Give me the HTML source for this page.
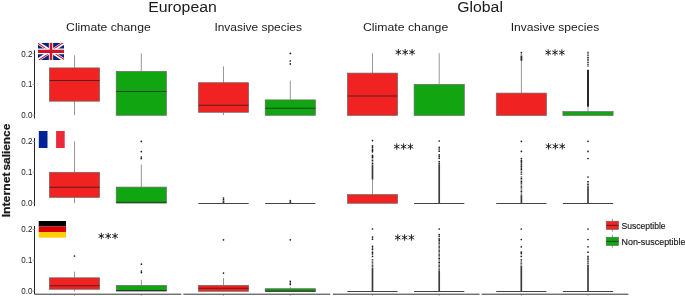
<!DOCTYPE html>
<html><head><meta charset="utf-8"><style>
html,body{margin:0;padding:0;background:#fff;}
body{width:685px;height:296px;overflow:hidden;}
svg{display:block;}
text{font-family:"Liberation Sans",sans-serif;fill:#1a1a1a;}
.tk{font-size:9.4px;fill:#1a1a1a;}
.h1{font-size:14.7px;}
.h2{font-size:11.7px;}
.lg{font-size:9px;fill:#151515;stroke:#151515;stroke-width:0.15px;}
.yl{font-size:11.5px;font-weight:bold;stroke:#1a1a1a;stroke-width:0.25px;}
</style></head><body>
<svg width="685" height="296" viewBox="0 0 685 296">
<rect width="685" height="296" fill="#fff"/>
<line x1="34.5" y1="50.3" x2="34.5" y2="118.4" stroke="#222" stroke-width="1"/>
<line x1="32.5" y1="115.3" x2="34.5" y2="115.3" stroke="#999" stroke-width="0.8"/>
<line x1="32.5" y1="84.5" x2="34.5" y2="84.5" stroke="#999" stroke-width="0.8"/>
<line x1="32.5" y1="53.7" x2="34.5" y2="53.7" stroke="#999" stroke-width="0.8"/>
<line x1="34.5" y1="138.1" x2="34.5" y2="206.2" stroke="#222" stroke-width="1"/>
<line x1="32.5" y1="203.1" x2="34.5" y2="203.1" stroke="#999" stroke-width="0.8"/>
<line x1="32.5" y1="172.3" x2="34.5" y2="172.3" stroke="#999" stroke-width="0.8"/>
<line x1="32.5" y1="141.5" x2="34.5" y2="141.5" stroke="#999" stroke-width="0.8"/>
<line x1="34.5" y1="226.1" x2="34.5" y2="294.2" stroke="#222" stroke-width="1"/>
<line x1="32.5" y1="291.1" x2="34.5" y2="291.1" stroke="#999" stroke-width="0.8"/>
<line x1="32.5" y1="260.3" x2="34.5" y2="260.3" stroke="#999" stroke-width="0.8"/>
<line x1="32.5" y1="229.5" x2="34.5" y2="229.5" stroke="#999" stroke-width="0.8"/>
<line x1="74.5" y1="294.5" x2="74.5" y2="296" stroke="#aaa" stroke-width="0.8"/>
<line x1="141.3" y1="294.5" x2="141.3" y2="296" stroke="#aaa" stroke-width="0.8"/>
<line x1="223.5" y1="294.5" x2="223.5" y2="296" stroke="#aaa" stroke-width="0.8"/>
<line x1="290.3" y1="294.5" x2="290.3" y2="296" stroke="#aaa" stroke-width="0.8"/>
<line x1="372.5" y1="294.5" x2="372.5" y2="296" stroke="#aaa" stroke-width="0.8"/>
<line x1="439.2" y1="294.5" x2="439.2" y2="296" stroke="#aaa" stroke-width="0.8"/>
<line x1="521.4" y1="294.5" x2="521.4" y2="296" stroke="#aaa" stroke-width="0.8"/>
<line x1="588.0" y1="294.5" x2="588.0" y2="296" stroke="#aaa" stroke-width="0.8"/>
<line x1="34.5" y1="294.2" x2="181.3" y2="294.2" stroke="#333" stroke-width="1"/>
<line x1="183.4" y1="294.2" x2="330.2" y2="294.2" stroke="#333" stroke-width="1"/>
<line x1="332.8" y1="294.2" x2="479.6" y2="294.2" stroke="#333" stroke-width="1"/>
<line x1="481.6" y1="294.2" x2="628.4" y2="294.2" stroke="#333" stroke-width="1"/>
<line x1="74.5" y1="55.3" x2="74.5" y2="67.9" stroke="#6a6a6a" stroke-width="0.7"/>
<line x1="74.5" y1="101.2" x2="74.5" y2="115.0" stroke="#6a6a6a" stroke-width="0.7"/>
<rect x="49.40" y="67.9" width="50.20" height="33.30" fill="#F02222" stroke="#6a6a6a" stroke-width="0.7"/>
<line x1="49.40" y1="80.45" x2="99.60" y2="80.45" stroke="#1a1a1a" stroke-opacity="0.68" stroke-width="1.1"/>
<line x1="141.3" y1="53.4" x2="141.3" y2="71.4" stroke="#6a6a6a" stroke-width="0.7"/>
<rect x="116.20" y="71.4" width="50.20" height="43.90" fill="#11A511" stroke="#6a6a6a" stroke-width="0.7"/>
<line x1="116.20" y1="91.5" x2="166.40" y2="91.5" stroke="#1a1a1a" stroke-opacity="0.68" stroke-width="1.1"/>
<line x1="223.5" y1="66.4" x2="223.5" y2="82.7" stroke="#6a6a6a" stroke-width="0.7"/>
<line x1="223.5" y1="112.3" x2="223.5" y2="115.0" stroke="#6a6a6a" stroke-width="0.7"/>
<rect x="198.40" y="82.7" width="50.20" height="29.60" fill="#F02222" stroke="#6a6a6a" stroke-width="0.7"/>
<line x1="198.40" y1="105.3" x2="248.60" y2="105.3" stroke="#1a1a1a" stroke-opacity="0.68" stroke-width="1.1"/>
<line x1="290.3" y1="80.7" x2="290.3" y2="99.9" stroke="#6a6a6a" stroke-width="0.7"/>
<circle cx="290.3" cy="53.4" r="0.85" fill="#1a1a1a"/>
<circle cx="290.3" cy="61.0" r="0.85" fill="#1a1a1a"/>
<circle cx="290.3" cy="63.9" r="0.85" fill="#1a1a1a"/>
<rect x="265.20" y="99.9" width="50.20" height="15.40" fill="#11A511" stroke="#6a6a6a" stroke-width="0.7"/>
<line x1="265.20" y1="108.2" x2="315.40" y2="108.2" stroke="#1a1a1a" stroke-opacity="0.68" stroke-width="1.1"/>
<line x1="372.5" y1="53.2" x2="372.5" y2="73.1" stroke="#6a6a6a" stroke-width="0.7"/>
<rect x="347.40" y="73.1" width="50.20" height="42.30" fill="#F02222" stroke="#6a6a6a" stroke-width="0.7"/>
<line x1="347.40" y1="96.0" x2="397.60" y2="96.0" stroke="#1a1a1a" stroke-opacity="0.68" stroke-width="1.1"/>
<line x1="439.2" y1="53.2" x2="439.2" y2="84.4" stroke="#6a6a6a" stroke-width="0.7"/>
<rect x="414.10" y="84.4" width="50.20" height="31.00" fill="#11A511" stroke="#6a6a6a" stroke-width="0.7"/>
<line x1="521.4" y1="60.7" x2="521.4" y2="93.1" stroke="#6a6a6a" stroke-width="0.7"/>
<circle cx="521.4" cy="52.7" r="0.85" fill="#1a1a1a"/>
<line x1="521.4" y1="56.0" x2="521.4" y2="60.8" stroke="#2a2a2a" stroke-width="1.8"/>
<line x1="521.4" y1="54.4" x2="521.4" y2="56.0" stroke="#1a1a1a" stroke-width="1.6" stroke-dasharray="0.68 0.42"/>
<rect x="496.30" y="93.1" width="50.20" height="22.40" fill="#F02222" stroke="#6a6a6a" stroke-width="0.7"/>
<line x1="588.0" y1="106.7" x2="588.0" y2="111.6" stroke="#6a6a6a" stroke-width="0.7"/>
<line x1="588.0" y1="69.7" x2="588.0" y2="106.7" stroke="#2a2a2a" stroke-width="2.0"/>
<line x1="588.0" y1="51.8" x2="588.0" y2="66.6" stroke="#1a1a1a" stroke-width="1.6" stroke-dasharray="1.05 0.65"/>
<rect x="562.90" y="111.6" width="50.20" height="3.90" fill="#11A511" stroke="#6a6a6a" stroke-width="0.7"/>
<line x1="74.5" y1="141.4" x2="74.5" y2="172.3" stroke="#6a6a6a" stroke-width="0.7"/>
<line x1="74.5" y1="197.4" x2="74.5" y2="203.0" stroke="#6a6a6a" stroke-width="0.7"/>
<rect x="49.40" y="172.3" width="50.20" height="25.10" fill="#F02222" stroke="#6a6a6a" stroke-width="0.7"/>
<line x1="49.40" y1="187.3" x2="99.60" y2="187.3" stroke="#1a1a1a" stroke-opacity="0.68" stroke-width="1.1"/>
<line x1="141.3" y1="164.6" x2="141.3" y2="187.1" stroke="#6a6a6a" stroke-width="0.7"/>
<circle cx="141.3" cy="141.4" r="0.85" fill="#1a1a1a"/>
<circle cx="141.3" cy="151.6" r="0.85" fill="#1a1a1a"/>
<circle cx="141.3" cy="157.0" r="0.85" fill="#1a1a1a"/>
<circle cx="141.3" cy="158.6" r="0.85" fill="#1a1a1a"/>
<rect x="116.20" y="187.1" width="50.20" height="16.00" fill="#11A511" stroke="#6a6a6a" stroke-width="0.7"/>
<line x1="116.20" y1="202.2" x2="166.40" y2="202.2" stroke="#1a1a1a" stroke-opacity="0.68" stroke-width="1.1"/>
<circle cx="223.5" cy="198.0" r="0.85" fill="#1a1a1a"/>
<circle cx="223.5" cy="199.6" r="0.85" fill="#1a1a1a"/>
<line x1="223.5" y1="200.5" x2="223.5" y2="203" stroke="#3c3c3c" stroke-width="1.7"/>
<line x1="198.40" y1="203.50" x2="248.60" y2="203.50" stroke="#444" stroke-width="1.15"/>
<line x1="290.3" y1="199.9" x2="290.3" y2="203" stroke="#3c3c3c" stroke-width="1.7"/>
<line x1="265.20" y1="203.50" x2="315.40" y2="203.50" stroke="#444" stroke-width="1.15"/>
<line x1="372.5" y1="179.6" x2="372.5" y2="194.6" stroke="#6a6a6a" stroke-width="0.7"/>
<circle cx="372.5" cy="140.6" r="0.85" fill="#1a1a1a"/>
<circle cx="372.5" cy="145.8" r="0.85" fill="#1a1a1a"/>
<circle cx="372.5" cy="147.2" r="0.85" fill="#1a1a1a"/>
<circle cx="372.5" cy="149.2" r="0.85" fill="#1a1a1a"/>
<circle cx="372.5" cy="150.5" r="0.85" fill="#1a1a1a"/>
<circle cx="372.5" cy="151.8" r="0.85" fill="#1a1a1a"/>
<circle cx="372.5" cy="155.4" r="0.85" fill="#1a1a1a"/>
<circle cx="372.5" cy="156.4" r="0.85" fill="#1a1a1a"/>
<line x1="372.5" y1="164.4" x2="372.5" y2="179.6" stroke="#3c3c3c" stroke-width="1.7"/>
<line x1="372.5" y1="157.0" x2="372.5" y2="164.4" stroke="#1a1a1a" stroke-width="1.6" stroke-dasharray="0.93 0.57"/>
<rect x="347.40" y="194.6" width="50.20" height="8.70" fill="#F02222" stroke="#6a6a6a" stroke-width="0.7"/>
<circle cx="439.2" cy="141.0" r="0.85" fill="#1a1a1a"/>
<circle cx="439.2" cy="147.3" r="0.85" fill="#1a1a1a"/>
<circle cx="439.2" cy="149.0" r="0.85" fill="#1a1a1a"/>
<circle cx="439.2" cy="151.2" r="0.85" fill="#1a1a1a"/>
<circle cx="439.2" cy="154.9" r="0.85" fill="#1a1a1a"/>
<circle cx="439.2" cy="156.6" r="0.85" fill="#1a1a1a"/>
<circle cx="439.2" cy="158.3" r="0.85" fill="#1a1a1a"/>
<circle cx="439.2" cy="161.6" r="0.85" fill="#1a1a1a"/>
<circle cx="439.2" cy="163.3" r="0.85" fill="#1a1a1a"/>
<line x1="439.2" y1="164.2" x2="439.2" y2="203" stroke="#3c3c3c" stroke-width="1.7"/>
<line x1="414.10" y1="203.50" x2="464.30" y2="203.50" stroke="#444" stroke-width="1.15"/>
<circle cx="521.4" cy="141.3" r="0.85" fill="#1a1a1a"/>
<circle cx="521.4" cy="151.4" r="0.85" fill="#1a1a1a"/>
<circle cx="521.4" cy="158.5" r="0.85" fill="#1a1a1a"/>
<circle cx="521.4" cy="160.3" r="0.85" fill="#1a1a1a"/>
<circle cx="521.4" cy="161.7" r="0.85" fill="#1a1a1a"/>
<circle cx="521.4" cy="163.0" r="0.85" fill="#1a1a1a"/>
<circle cx="521.4" cy="164.8" r="0.85" fill="#1a1a1a"/>
<circle cx="521.4" cy="166.4" r="0.85" fill="#1a1a1a"/>
<circle cx="521.4" cy="168.1" r="0.85" fill="#1a1a1a"/>
<line x1="521.4" y1="196" x2="521.4" y2="203" stroke="#3c3c3c" stroke-width="1.7"/>
<line x1="521.4" y1="169.0" x2="521.4" y2="175.0" stroke="#1a1a1a" stroke-width="1.6" stroke-dasharray="0.99 0.61"/>
<line x1="521.4" y1="176.5" x2="521.4" y2="182.0" stroke="#1a1a1a" stroke-width="1.6" stroke-dasharray="0.93 0.57"/>
<line x1="521.4" y1="182.0" x2="521.4" y2="196" stroke="#1a1a1a" stroke-width="1.6" stroke-dasharray="0.81 0.49"/>
<line x1="496.30" y1="203.50" x2="546.50" y2="203.50" stroke="#444" stroke-width="1.15"/>
<circle cx="588.0" cy="141.3" r="0.85" fill="#1a1a1a"/>
<circle cx="588.0" cy="151.4" r="0.85" fill="#1a1a1a"/>
<circle cx="588.0" cy="158.5" r="0.85" fill="#1a1a1a"/>
<circle cx="588.0" cy="177.0" r="0.85" fill="#1a1a1a"/>
<line x1="588.0" y1="186.2" x2="588.0" y2="203" stroke="#3c3c3c" stroke-width="1.7"/>
<line x1="588.0" y1="181.0" x2="588.0" y2="186.2" stroke="#1a1a1a" stroke-width="1.6" stroke-dasharray="0.93 0.57"/>
<line x1="562.90" y1="203.50" x2="613.10" y2="203.50" stroke="#444" stroke-width="1.15"/>
<line x1="74.5" y1="271.6" x2="74.5" y2="277.8" stroke="#6a6a6a" stroke-width="0.7"/>
<line x1="74.5" y1="289.3" x2="74.5" y2="291.4" stroke="#6a6a6a" stroke-width="0.7"/>
<circle cx="74.5" cy="256.0" r="0.85" fill="#1a1a1a"/>
<rect x="49.40" y="277.8" width="50.20" height="11.50" fill="#F02222" stroke="#6a6a6a" stroke-width="0.7"/>
<line x1="49.40" y1="285.7" x2="99.60" y2="285.7" stroke="#1a1a1a" stroke-opacity="0.68" stroke-width="1.1"/>
<line x1="141.4" y1="279.8" x2="141.4" y2="285.4" stroke="#6a6a6a" stroke-width="0.7"/>
<circle cx="141.4" cy="264.2" r="0.85" fill="#1a1a1a"/>
<circle cx="141.4" cy="271.0" r="0.85" fill="#1a1a1a"/>
<circle cx="141.4" cy="272.6" r="0.85" fill="#1a1a1a"/>
<rect x="116.30" y="285.4" width="50.20" height="5.60" fill="#11A511" stroke="#6a6a6a" stroke-width="0.7"/>
<line x1="116.30" y1="290.6" x2="166.50" y2="290.6" stroke="#1a1a1a" stroke-opacity="0.68" stroke-width="1.1"/>
<line x1="223.5" y1="278.1" x2="223.5" y2="285.3" stroke="#6a6a6a" stroke-width="0.7"/>
<circle cx="223.5" cy="239.8" r="0.85" fill="#1a1a1a"/>
<circle cx="223.5" cy="273.1" r="0.85" fill="#1a1a1a"/>
<rect x="198.40" y="285.3" width="50.20" height="6.00" fill="#F02222" stroke="#6a6a6a" stroke-width="0.7"/>
<line x1="198.40" y1="288.3" x2="248.60" y2="288.3" stroke="#1a1a1a" stroke-opacity="0.68" stroke-width="1.1"/>
<line x1="290.3" y1="286.8" x2="290.3" y2="288.7" stroke="#6a6a6a" stroke-width="0.7"/>
<circle cx="290.3" cy="239.8" r="0.85" fill="#1a1a1a"/>
<circle cx="290.3" cy="281.3" r="0.85" fill="#1a1a1a"/>
<circle cx="290.3" cy="283.0" r="0.85" fill="#1a1a1a"/>
<circle cx="290.3" cy="284.5" r="0.85" fill="#1a1a1a"/>
<rect x="265.20" y="288.7" width="50.20" height="2.80" fill="#11A511" stroke="#6a6a6a" stroke-width="0.7"/>
<line x1="265.20" y1="291.1" x2="315.40" y2="291.1" stroke="#1a1a1a" stroke-opacity="0.68" stroke-width="1.1"/>
<circle cx="372.5" cy="229.0" r="0.85" fill="#1a1a1a"/>
<circle cx="372.5" cy="237.1" r="0.85" fill="#1a1a1a"/>
<circle cx="372.5" cy="239.2" r="0.85" fill="#1a1a1a"/>
<circle cx="372.5" cy="246.3" r="0.85" fill="#1a1a1a"/>
<circle cx="372.5" cy="248.0" r="0.85" fill="#1a1a1a"/>
<circle cx="372.5" cy="249.6" r="0.85" fill="#1a1a1a"/>
<circle cx="372.5" cy="252.2" r="0.85" fill="#1a1a1a"/>
<circle cx="372.5" cy="253.9" r="0.85" fill="#1a1a1a"/>
<circle cx="372.5" cy="256.4" r="0.85" fill="#1a1a1a"/>
<line x1="372.5" y1="267.4" x2="372.5" y2="291" stroke="#3c3c3c" stroke-width="1.7"/>
<line x1="372.5" y1="259.2" x2="372.5" y2="267.0" stroke="#1a1a1a" stroke-width="1.6" stroke-dasharray="0.87 0.53"/>
<line x1="347.40" y1="291.50" x2="397.60" y2="291.50" stroke="#444" stroke-width="1.15"/>
<circle cx="439.2" cy="229.0" r="0.85" fill="#1a1a1a"/>
<circle cx="439.2" cy="234.6" r="0.85" fill="#1a1a1a"/>
<circle cx="439.2" cy="236.3" r="0.85" fill="#1a1a1a"/>
<circle cx="439.2" cy="238.8" r="0.85" fill="#1a1a1a"/>
<circle cx="439.2" cy="240.2" r="0.85" fill="#1a1a1a"/>
<circle cx="439.2" cy="242.0" r="0.85" fill="#1a1a1a"/>
<line x1="439.2" y1="270.5" x2="439.2" y2="291" stroke="#3c3c3c" stroke-width="1.7"/>
<line x1="439.2" y1="243.2" x2="439.2" y2="270.5" stroke="#1a1a1a" stroke-width="1.6" stroke-dasharray="0.84 0.51"/>
<line x1="414.10" y1="291.50" x2="464.30" y2="291.50" stroke="#444" stroke-width="1.15"/>
<circle cx="521.3" cy="229.0" r="0.85" fill="#1a1a1a"/>
<circle cx="521.3" cy="239.5" r="0.85" fill="#1a1a1a"/>
<circle cx="521.3" cy="246.8" r="0.85" fill="#1a1a1a"/>
<circle cx="521.3" cy="252.2" r="0.85" fill="#1a1a1a"/>
<circle cx="521.3" cy="253.6" r="0.85" fill="#1a1a1a"/>
<circle cx="521.3" cy="256.4" r="0.85" fill="#1a1a1a"/>
<circle cx="521.3" cy="259.8" r="0.85" fill="#1a1a1a"/>
<line x1="521.3" y1="265.7" x2="521.3" y2="291" stroke="#3c3c3c" stroke-width="1.7"/>
<line x1="521.3" y1="261.6" x2="521.3" y2="265.6" stroke="#1a1a1a" stroke-width="1.6" stroke-dasharray="0.87 0.53"/>
<line x1="496.20" y1="291.50" x2="546.40" y2="291.50" stroke="#444" stroke-width="1.15"/>
<circle cx="588.0" cy="229.0" r="0.85" fill="#1a1a1a"/>
<circle cx="588.0" cy="239.5" r="0.85" fill="#1a1a1a"/>
<circle cx="588.0" cy="246.8" r="0.85" fill="#1a1a1a"/>
<circle cx="588.0" cy="252.2" r="0.85" fill="#1a1a1a"/>
<circle cx="588.0" cy="256.4" r="0.85" fill="#1a1a1a"/>
<circle cx="588.0" cy="258.1" r="0.85" fill="#1a1a1a"/>
<circle cx="588.0" cy="259.8" r="0.85" fill="#1a1a1a"/>
<circle cx="588.0" cy="261.8" r="0.85" fill="#1a1a1a"/>
<line x1="588.0" y1="264.5" x2="588.0" y2="291" stroke="#3c3c3c" stroke-width="1.7"/>
<line x1="588.0" y1="263.0" x2="588.0" y2="264.5" stroke="#1a1a1a" stroke-width="1.6" stroke-dasharray="0.87 0.53"/>
<line x1="562.90" y1="291.50" x2="613.10" y2="291.50" stroke="#444" stroke-width="1.15"/>
<path d="M398.35,55.40L398.35,49.00M395.58,53.80L401.12,50.60M401.12,53.80L395.58,50.60" stroke="#111" stroke-width="0.9" fill="none"/>
<path d="M405.20,55.40L405.20,49.00M402.43,53.80L407.97,50.60M407.97,53.80L402.43,50.60" stroke="#111" stroke-width="0.9" fill="none"/>
<path d="M412.05,55.40L412.05,49.00M409.28,53.80L414.82,50.60M414.82,53.80L409.28,50.60" stroke="#111" stroke-width="0.9" fill="none"/>
<path d="M548.15,55.70L548.15,49.30M545.38,54.10L550.92,50.90M550.92,54.10L545.38,50.90" stroke="#111" stroke-width="0.9" fill="none"/>
<path d="M555.00,55.70L555.00,49.30M552.23,54.10L557.77,50.90M557.77,54.10L552.23,50.90" stroke="#111" stroke-width="0.9" fill="none"/>
<path d="M561.85,55.70L561.85,49.30M559.08,54.10L564.62,50.90M564.62,54.10L559.08,50.90" stroke="#111" stroke-width="0.9" fill="none"/>
<path d="M396.75,149.80L396.75,143.40M393.98,148.20L399.52,145.00M399.52,148.20L393.98,145.00" stroke="#111" stroke-width="0.9" fill="none"/>
<path d="M403.60,149.80L403.60,143.40M400.83,148.20L406.37,145.00M406.37,148.20L400.83,145.00" stroke="#111" stroke-width="0.9" fill="none"/>
<path d="M410.45,149.80L410.45,143.40M407.68,148.20L413.22,145.00M413.22,148.20L407.68,145.00" stroke="#111" stroke-width="0.9" fill="none"/>
<path d="M548.55,149.50L548.55,143.10M545.78,147.90L551.32,144.70M551.32,147.90L545.78,144.70" stroke="#111" stroke-width="0.9" fill="none"/>
<path d="M555.40,149.50L555.40,143.10M552.63,147.90L558.17,144.70M558.17,147.90L552.63,144.70" stroke="#111" stroke-width="0.9" fill="none"/>
<path d="M562.25,149.50L562.25,143.10M559.48,147.90L565.02,144.70M565.02,147.90L559.48,144.70" stroke="#111" stroke-width="0.9" fill="none"/>
<path d="M101.35,239.20L101.35,232.80M98.58,237.60L104.12,234.40M104.12,237.60L98.58,234.40" stroke="#111" stroke-width="0.9" fill="none"/>
<path d="M108.20,239.20L108.20,232.80M105.43,237.60L110.97,234.40M110.97,237.60L105.43,234.40" stroke="#111" stroke-width="0.9" fill="none"/>
<path d="M115.05,239.20L115.05,232.80M112.28,237.60L117.82,234.40M117.82,237.60L112.28,234.40" stroke="#111" stroke-width="0.9" fill="none"/>
<path d="M397.75,240.70L397.75,234.30M394.98,239.10L400.52,235.90M400.52,239.10L394.98,235.90" stroke="#111" stroke-width="0.9" fill="none"/>
<path d="M404.60,240.70L404.60,234.30M401.83,239.10L407.37,235.90M407.37,239.10L401.83,235.90" stroke="#111" stroke-width="0.9" fill="none"/>
<path d="M411.45,240.70L411.45,234.30M408.68,239.10L414.22,235.90M414.22,239.10L408.68,235.90" stroke="#111" stroke-width="0.9" fill="none"/>
<svg x="38" y="42.8" width="26" height="17.2" viewBox="0 0 60 30" preserveAspectRatio="none"><clipPath id="t"><path d="M30,15 h30 v15 z v15 h-30 z h-30 v-15 z v-15 h30 z"/></clipPath><path d="M0,0 v30 h60 v-30 z" fill="#00247d"/><path d="M0,0 L60,30 M60,0 L0,30" stroke="#fff" stroke-width="6"/><path d="M0,0 L60,30 M60,0 L0,30" clip-path="url(#t)" stroke="#cf142b" stroke-width="4"/><path d="M30,0 v30 M0,15 h60" stroke="#fff" stroke-width="10"/><path d="M30,0 v30 M0,15 h60" stroke="#cf142b" stroke-width="6"/></svg>
<rect x="38.8" y="131" width="8.9" height="17" fill="#002395"/>
<rect x="47.7" y="131" width="8.4" height="17" fill="#ffffff"/>
<rect x="56.1" y="131" width="8.6" height="17" fill="#ED2939"/>
<rect x="38.7" y="221" width="27.3" height="5.53" fill="#000"/>
<rect x="38.7" y="226.53" width="27.3" height="5.53" fill="#DD0000"/>
<rect x="38.7" y="232.06" width="27.3" height="5.54" fill="#FFCE00"/>
<line x1="612.4" y1="218.7" x2="612.4" y2="231.7" stroke="#777" stroke-width="0.7"/>
<rect x="606.2" y="221.2" width="12.4" height="8.3" fill="#F02222" stroke="#666" stroke-width="0.6"/>
<line x1="606.2" y1="225.39999999999998" x2="618.6" y2="225.39999999999998" stroke="#1a1a1a" stroke-opacity="0.7" stroke-width="0.9"/>
<line x1="612.4" y1="234.7" x2="612.4" y2="247.7" stroke="#777" stroke-width="0.7"/>
<rect x="606.2" y="237.2" width="12.4" height="8.3" fill="#11A511" stroke="#666" stroke-width="0.6"/>
<line x1="606.2" y1="241.39999999999998" x2="618.6" y2="241.39999999999998" stroke="#1a1a1a" stroke-opacity="0.7" stroke-width="0.9"/>
<g style="will-change:transform">
<text x="32.4" y="118.2" text-anchor="end" class="tk" textLength="11.2" lengthAdjust="spacingAndGlyphs">0.0</text>
<text x="32.4" y="87.4" text-anchor="end" class="tk" textLength="11.2" lengthAdjust="spacingAndGlyphs">0.1</text>
<text x="32.4" y="56.6" text-anchor="end" class="tk" textLength="11.2" lengthAdjust="spacingAndGlyphs">0.2</text>
<text x="32.4" y="206.0" text-anchor="end" class="tk" textLength="11.2" lengthAdjust="spacingAndGlyphs">0.0</text>
<text x="32.4" y="175.2" text-anchor="end" class="tk" textLength="11.2" lengthAdjust="spacingAndGlyphs">0.1</text>
<text x="32.4" y="144.4" text-anchor="end" class="tk" textLength="11.2" lengthAdjust="spacingAndGlyphs">0.2</text>
<text x="32.4" y="294.0" text-anchor="end" class="tk" textLength="11.2" lengthAdjust="spacingAndGlyphs">0.0</text>
<text x="32.4" y="263.2" text-anchor="end" class="tk" textLength="11.2" lengthAdjust="spacingAndGlyphs">0.1</text>
<text x="32.4" y="232.4" text-anchor="end" class="tk" textLength="11.2" lengthAdjust="spacingAndGlyphs">0.2</text>
<text x="182.5" y="11.5" text-anchor="middle" class="h1" textLength="68.6" lengthAdjust="spacingAndGlyphs">European</text>
<text x="480.1" y="11.5" text-anchor="middle" class="h1" textLength="45.6" lengthAdjust="spacingAndGlyphs">Global</text>
<text x="108.4" y="30.8" text-anchor="middle" class="h2" textLength="84.6" lengthAdjust="spacingAndGlyphs">Climate change</text>
<text x="258.2" y="30.8" text-anchor="middle" class="h2" textLength="87.6" lengthAdjust="spacingAndGlyphs">Invasive species</text>
<text x="405.6" y="30.8" text-anchor="middle" class="h2" textLength="85.4" lengthAdjust="spacingAndGlyphs">Climate change</text>
<text x="555.0" y="30.8" text-anchor="middle" class="h2" textLength="88.5" lengthAdjust="spacingAndGlyphs">Invasive species</text>
<text x="621.5" y="229.0" class="lg" textLength="44.1" lengthAdjust="spacingAndGlyphs">Susceptible</text>
<text x="621.5" y="245.3" class="lg" textLength="64" lengthAdjust="spacingAndGlyphs">Non-susceptible</text>
<text transform="translate(9.9,217.3) rotate(-90)" class="yl" textLength="44.8" lengthAdjust="spacingAndGlyphs">Internet</text>
<text transform="translate(9.9,170.5) rotate(-90)" class="yl" textLength="46.8" lengthAdjust="spacingAndGlyphs">salience</text>
</g>
</svg>
</body></html>
